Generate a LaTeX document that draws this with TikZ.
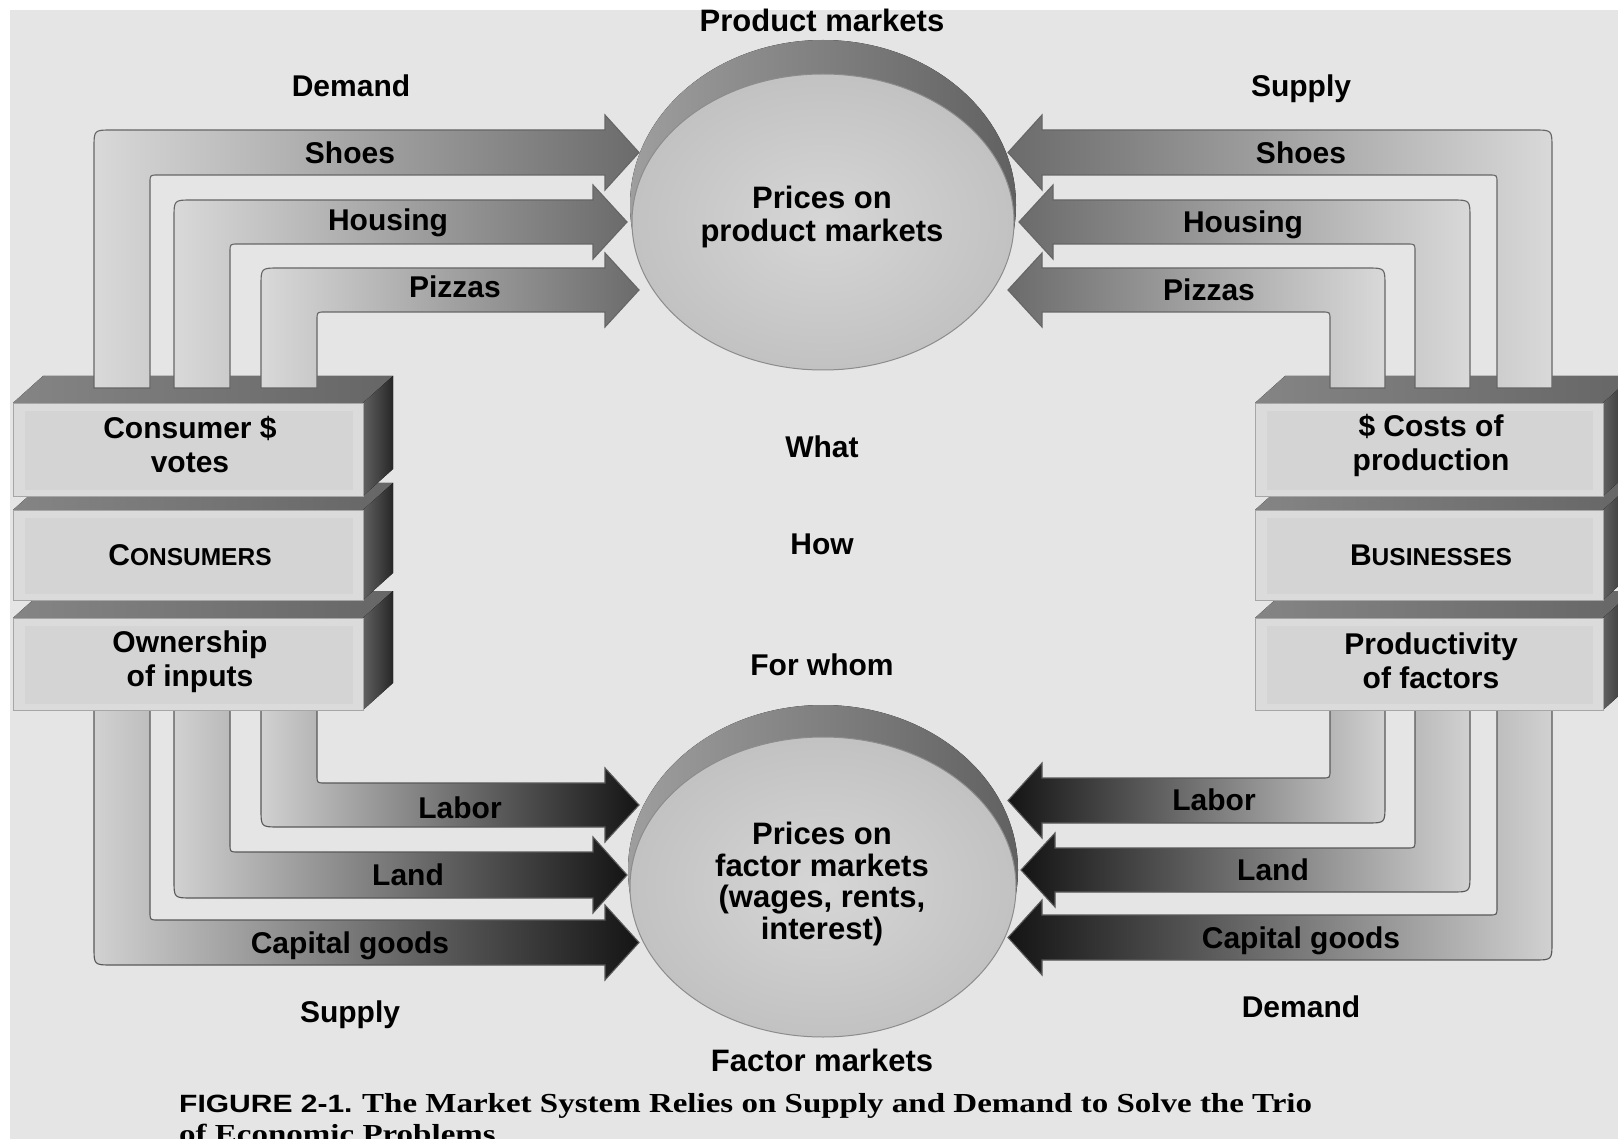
\documentclass[tikz,border=0pt]{standalone}
\usepackage{fontspec}
\usepackage{graphicx}
\setmainfont{Liberation Sans}
\newfontfamily\capserif{Liberation Serif}

% #1 outer stem x, #2 inner stem x, #3 outer band y, #4 inner band y,
% #5 head base x, #6 tip x, #7 stem end y, #8 x sign, #9 y sign
\newcommand{\blockarrow}[9]{%
  (#1,#7) -- (#1,{#3+#9*18}) .. controls (#1,#3) .. ({#1+#8*18},#3)
  -- (#5,#3) -- (#5,{#3-#9*15}) -- (#6,{(#3+#4)/2}) -- (#5,{#4+#9*15})
  -- (#5,#4) -- ({#2+#8*8},#4) .. controls (#2,#4) .. (#2,{#4+#9*8})
  -- (#2,#7) -- cycle}

\newcommand{\slab}[4]{%
  \fill[topface] (#1,#3) -- ({#1+30},{#3-27}) -- ({#2+30},{#3-27}) -- (#2,#3) -- cycle;
  \fill[sideface] (#2,#3) -- ({#2+30},{#3-27}) -- ({#2+30},{#4-27}) -- (#2,#4) -- cycle;
  \path[frontface] (#1,#3) rectangle (#2,#4);
  \fill[innerface] ({#1+12},{#3+8}) rectangle ({#2-10},{#4-6});
}

\newcommand{\fakesc}[2]{#1{\fontsize{24.5}{30}\selectfont #2}}

\begin{document}
\begin{tikzpicture}[x=1pt,y=-1pt,
  lbl/.style={font=\fontsize{30}{34}\selectfont\bfseries, inner sep=0pt, align=center, text=black},
  big/.style={lbl, font=\fontsize{31}{33}\selectfont\bfseries},
  arrTL/.style={left color=black!15, right color=black!58, draw=black!60, line width=1.1pt},
  arrTR/.style={right color=black!15, left color=black!58, draw=black!60, line width=1.1pt},
  arrBL/.style={left color=black!18, right color=black!92, draw=black!65, line width=1.1pt},
  arrBR/.style={right color=black!18, left color=black!92, draw=black!65, line width=1.1pt},
  topface/.style={left color=black!48, right color=black!60},
  sideface/.style={left color=black!62, right color=black!85},
  frontface/.style={fill=black!14, draw=black!35, line width=0.8pt},
  innerface/.style={fill=black!17},
  rim/.style={left color=black!38, right color=black!62},
  face/.style={inner color=black!16, outer color=black!24, draw=black!45, line width=1pt}
]
\useasboundingbox (0,0) rectangle (1618,1139);
\fill[white] (0,0) rectangle (1618,1139);
\fill[black!10] (10,10) rectangle (1618,1139);

% market discs
\coordinate (pm) at (823,222);
\coordinate (fm) at (823,887);
\fill[rim] (823,205) ellipse [x radius=193pt, y radius=165pt];
\path[face] (pm) ellipse [x radius=191pt, y radius=148pt];
\fill[rim] (823,870) ellipse [x radius=195pt, y radius=165pt];
\path[face] (fm) ellipse [x radius=193pt, y radius=150pt];

% bottom arrows (factor markets)
\path[arrBL] \blockarrow{94}{150}{965}{920}{605}{639}{708}{1}{(-1)};
\path[arrBL] \blockarrow{174}{230}{898}{852}{593}{627}{708}{1}{(-1)};
\path[arrBL] \blockarrow{261}{317}{827}{783}{605}{639}{708}{1}{(-1)};
\path[arrBR] \blockarrow{1552}{1497}{960}{915}{1042}{1008}{708}{(-1)}{(-1)};
\path[arrBR] \blockarrow{1470}{1415}{892}{848}{1055}{1021}{708}{(-1)}{(-1)};
\path[arrBR] \blockarrow{1385}{1330}{823}{778}{1042}{1008}{708}{(-1)}{(-1)};

% blocks
\slab{13}{363}{618}{710}
\slab{13}{363}{510}{600}
\slab{13}{363}{403}{496}
\slab{1255}{1603}{618}{710}
\slab{1255}{1603}{510}{600}
\slab{1255}{1603}{403}{496}

% top arrows (product markets)
\path[arrTL] \blockarrow{94}{150}{130}{175}{605}{639}{388}{1}{1};
\path[arrTL] \blockarrow{174}{230}{200}{244}{593}{627}{388}{1}{1};
\path[arrTL] \blockarrow{261}{317}{268}{312}{605}{639}{388}{1}{1};
\path[arrTR] \blockarrow{1552}{1497}{130}{175}{1042}{1008}{388}{(-1)}{1};
\path[arrTR] \blockarrow{1470}{1415}{200}{244}{1053}{1019}{388}{(-1)}{1};
\path[arrTR] \blockarrow{1385}{1330}{268}{312}{1042}{1008}{388}{(-1)}{1};

% texts
\node[big] (pmt) at (822,20) {Product markets};
\node[big] (pmp) at (822,217) {Prices on\\product markets};
\node[lbl] (dl) at (351,86) {Demand};
\node[lbl] (sr) at (1301,89) {Supply};
\node[lbl] (s1) at (350,153) {Shoes};
\node[lbl] (h1) at (388,223) {Housing};
\node[lbl] (p1) at (455,287) {Pizzas};
\node[lbl] (s2) at (1301,153) {Shoes};
\node[lbl] (h2) at (1243,225) {Housing};
\node[lbl] (p2) at (1209,290) {Pizzas};
\node[lbl] (what) at (822,447) {What};
\node[lbl] (how) at (822,544) {How};
\node[lbl] (whom) at (822,665) {For whom};
\node[lbl] (cv) at (190,445) {Consumer \$\\votes};
\node[lbl] (cons) at (190,555) {\fakesc{C}{ONSUMERS}};
\node[lbl] (own) at (190,662) {Ownership\\of inputs};
\node[lbl] (cost) at (1431,445) {\$ Costs of\\production};
\node[lbl] (bus) at (1431,555) {\fakesc{B}{USINESSES}};
\node[lbl] (prod) at (1431,661) {Productivity\\of factors};
\node[lbl] (lab1) at (460,808) {Labor};
\node[lbl] (land1) at (408,875) {Land};
\node[lbl] (cap1) at (350,946) {Capital goods};
\node[lbl] (lab2) at (1214,800) {Labor};
\node[lbl] (land2) at (1273,870) {Land};
\node[lbl] (cap2) at (1301,941) {Capital goods};
\node[lbl] (sl) at (350,1015) {Supply};
\node[lbl] (dr) at (1301,1007) {Demand};
\node[big, font=\fontsize{31}{31.5}\selectfont\bfseries] (fmp) at (822,884) {Prices on\\factor markets\\(wages, rents,\\interest)};
\node[big] (fmt) at (822,1060) {Factor markets};

\node[anchor=base west, inner sep=0pt] (capA) at (179,1112) {\scalebox{1.2}[1]{\fontsize{25}{30}\selectfont\bfseries FIGURE 2-1.\hspace{8pt}\capserif\fontsize{27.5}{30}\selectfont The Market System Relies on Supply and Demand to Solve the Trio}};
\node[anchor=base west, inner sep=0pt] (capB) at (179,1143) {\scalebox{1.2}[1]{\capserif\fontsize{27.5}{30}\selectfont\bfseries of Economic Problems}};
\end{tikzpicture}
\end{document}
